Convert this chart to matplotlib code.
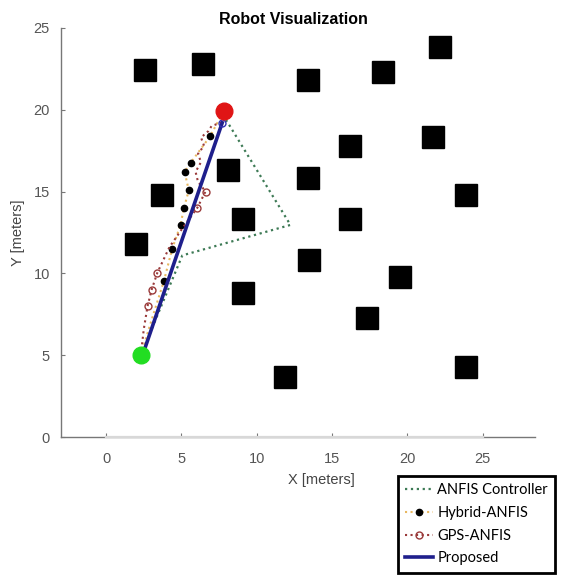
import matplotlib
matplotlib.use('Agg')
import matplotlib.pyplot as plt

plt.rcParams['font.family'] = ['Liberation Sans', 'DejaVu Sans']

# obstacles (centres, metres)
obs_x = [2.6, 6.4, 13.4, 18.4, 22.2, 3.7, 8.1, 2.0, 9.1, 13.4,
         16.2, 21.7, 23.9, 16.2, 13.5, 19.5, 9.1, 17.3, 11.9, 23.9]
obs_y = [22.4, 22.8, 21.8, 22.3, 23.8, 14.8, 16.3, 11.8, 13.3, 15.8,
         17.8, 18.3, 14.8, 13.3, 10.8, 9.8, 8.8, 7.3, 3.7, 4.3]

start = (2.3, 5.0)
goal = (7.8, 19.9)
map_size = 25

anfis_x = [2.3, 5.06, 12.24, 8.13, 7.8]
anfis_y = [5.0, 11.1, 12.96, 19.13, 19.6]

hybrid_x = [2.3, 3.0, 3.84, 4.39, 4.94, 5.16, 5.49, 5.21, 5.61, 6.9, 7.8]
hybrid_y = [5.0, 7.1, 9.55, 11.52, 12.96, 13.98, 15.07, 16.2, 16.75, 18.37, 19.9]

gps_x = [2.3, 2.5, 2.75, 3.02, 3.4, 4.2, 5.1, 6.05, 6.6, 6.1, 5.94, 6.3, 6.1,
         6.5, 6.3, 6.8, 7.0, 7.6, 7.8]
gps_y = [5.0, 6.6, 8.0, 9.0, 10.04, 11.6, 12.8, 14.0, 15.0, 15.6, 16.2, 16.8, 17.3,
         17.8, 18.3, 18.7, 19.0, 19.2, 19.9]

prop_x = [2.3, 2.49, 5.28, 7.71]
prop_y = [5.0, 5.2, 12.7, 19.2]

fig = plt.figure(figsize=(5.7, 5.79), dpi=100)
ax = fig.add_axes([0.107, 0.245, 0.832, 0.707])

ax.plot(obs_x, obs_y, 's', color='black', ms=16, zorder=2)

ax.plot(anfis_x, anfis_y, ':', color='#3d7a55', lw=1.6, label='ANFIS Controller', zorder=3)
ax.plot(hybrid_x, hybrid_y, ':', color='#e8b860', lw=1.5, marker='o', ms=4.5,
        mfc='black', mec='black', markevery=list(range(2, 10)),
        label='Hybrid-ANFIS', zorder=4)
ax.plot(gps_x, gps_y, ':', color='#9a3a3a', lw=1.5, marker='o', ms=5,
        mfc='none', mec='#9a3a3a', markevery=[2, 3, 4, 7, 8],
        label='GPS-ANFIS', zorder=4)
ax.plot(prop_x, prop_y, '-', color='#1f1f8c', lw=2.6, label='Proposed', zorder=5)
ax.plot(prop_x[-1], prop_y[-1], 'o', ms=5, mfc='none', mec='#3030b0', zorder=6)

ax.plot(*start, 'o', color='#22dd22', ms=12, zorder=7)
ax.plot(*goal, 'o', color='#e01515', ms=12, zorder=7)

ax.set_xlim(-3, 28.5)
ax.set_ylim(0, 25)
ax.set_xticks([0, 5, 10, 15, 20, 25])
ax.set_yticks([0, 5, 10, 15, 20, 25])
for s in ['top', 'right']:
    ax.spines[s].set_visible(False)
for s in ['left', 'bottom']:
    ax.spines[s].set_color('#777777')
    ax.spines[s].set_linewidth(1.0)
ax.plot([0, map_size], [0, 0], color='#d8d8d8', lw=1.6, zorder=3, clip_on=False)
ax.tick_params(direction='in', length=3, colors='#777777', labelcolor='#555555',
               labelsize=10.5)
ax.tick_params(axis='x', pad=11)
ax.tick_params(axis='y', pad=8)

ax.set_title('Robot Visualization', fontsize=11.5, fontweight='bold', x=0.49, pad=3)
ax.set_xlabel('X [meters]', fontsize=10.5, color='#444444')
ax.xaxis.set_label_coords(0.55, -0.088)
ax.set_ylabel('Y [meters]', fontsize=10.5, color='#444444')
ax.yaxis.set_label_coords(-0.075, 0.5)

leg = fig.legend(loc='upper left', bbox_to_anchor=(0.698, 0.178),
                 prop={'family': ['Lato', 'DejaVu Sans'], 'size': 10.5},
                 fancybox=False, framealpha=1, edgecolor='black',
                 handlelength=1.9, handletextpad=0.3, borderpad=0.5,
                 labelspacing=0.6, borderaxespad=0)
leg.get_frame().set_linewidth(2)

fig.savefig('out.png', dpi=100)
